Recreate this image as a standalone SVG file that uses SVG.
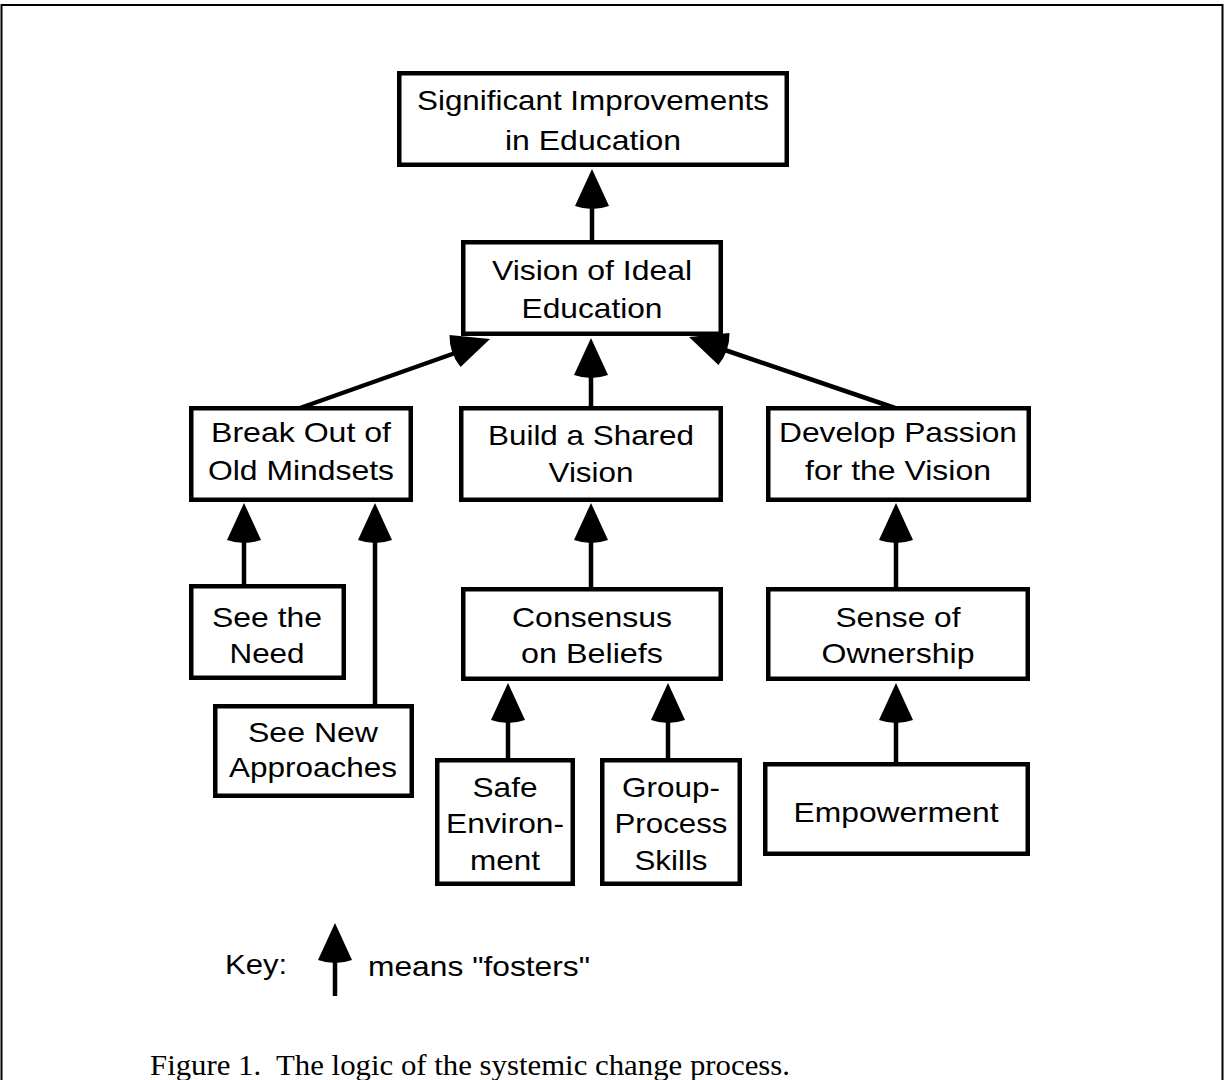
<svg xmlns="http://www.w3.org/2000/svg" xmlns:xlink="http://www.w3.org/1999/xlink" width="1224" height="1080" viewBox="0 0 1224 1080">
<style>
.box{fill:#fff;stroke:#000;stroke-width:4.5}
.lbl{font-family:"Liberation Sans",Arial,Helvetica,sans-serif;font-size:28px;fill:#000;text-anchor:middle}
.key{font-family:"Liberation Sans",Arial,Helvetica,sans-serif;font-size:28px;fill:#000}
.cap{font-family:"Liberation Serif","Times New Roman",serif;font-size:30px;fill:#000}
.cn{stroke:#000;stroke-width:4.5;fill:none}
.ah{fill:#000}
</style>
<defs>
<path id="ah" d="M0,0 L17,37 Q0,43 -17,37 Z"/>
</defs>
<rect x="0" y="0" width="1224" height="1080" fill="#fff"/>
<rect x="1.5" y="5" width="1221" height="1100" fill="none" stroke="#000" stroke-width="2"/>

<g id="connectors">
  <line class="cn" x1="592" y1="242" x2="592" y2="200"/>
  <use xlink:href="#ah" href="#ah" class="ah" x="0" y="0" transform="translate(592,169)"/>
  <line class="cn" x1="591" y1="408" x2="591" y2="370"/>
  <use xlink:href="#ah" href="#ah" class="ah" transform="translate(591,338)"/>
  <line class="cn" x1="300" y1="408" x2="458" y2="352"/>
  <use xlink:href="#ah" href="#ah" class="ah" transform="translate(490,339) rotate(71)"/>
  <line class="cn" x1="895" y1="408" x2="722" y2="349"/>
  <use xlink:href="#ah" href="#ah" class="ah" transform="translate(689,337) rotate(-71)"/>
  <line class="cn" x1="244" y1="586" x2="244" y2="535"/>
  <use xlink:href="#ah" href="#ah" class="ah" transform="translate(244,503)"/>
  <line class="cn" x1="375" y1="706" x2="375" y2="535"/>
  <use xlink:href="#ah" href="#ah" class="ah" transform="translate(375,503)"/>
  <line class="cn" x1="591" y1="589" x2="591" y2="535"/>
  <use xlink:href="#ah" href="#ah" class="ah" transform="translate(591,503)"/>
  <line class="cn" x1="896" y1="589" x2="896" y2="535"/>
  <use xlink:href="#ah" href="#ah" class="ah" transform="translate(896,503)"/>
  <line class="cn" x1="508" y1="760" x2="508" y2="715"/>
  <use xlink:href="#ah" href="#ah" class="ah" transform="translate(508,683)"/>
  <line class="cn" x1="668" y1="760" x2="668" y2="715"/>
  <use xlink:href="#ah" href="#ah" class="ah" transform="translate(668,683)"/>
  <line class="cn" x1="896" y1="764" x2="896" y2="715"/>
  <use xlink:href="#ah" href="#ah" class="ah" transform="translate(896,683)"/>
</g>

<g id="n-significant">
  <rect class="box" x="399.25" y="73.25" width="387.5" height="91.5"/>
  <text class="lbl" x="593" y="110" textLength="352" lengthAdjust="spacingAndGlyphs">Significant Improvements</text>
  <text class="lbl" x="593" y="150" textLength="176" lengthAdjust="spacingAndGlyphs">in Education</text>
</g>
<g id="n-vision">
  <rect class="box" x="463.25" y="242.25" width="257.5" height="91.5"/>
  <text class="lbl" x="592" y="280" textLength="200" lengthAdjust="spacingAndGlyphs">Vision of Ideal</text>
  <text class="lbl" x="592" y="318" textLength="141" lengthAdjust="spacingAndGlyphs">Education</text>
</g>
<g id="n-break">
  <rect class="box" x="191.25" y="408.25" width="219.5" height="91.5"/>
  <text class="lbl" x="301" y="442" textLength="180" lengthAdjust="spacingAndGlyphs">Break Out of</text>
  <text class="lbl" x="301" y="480" textLength="186" lengthAdjust="spacingAndGlyphs">Old Mindsets</text>
</g>
<g id="n-build">
  <rect class="box" x="461.25" y="408.25" width="259.5" height="91.5"/>
  <text class="lbl" x="591" y="445" textLength="206" lengthAdjust="spacingAndGlyphs">Build a Shared</text>
  <text class="lbl" x="591" y="482" textLength="85" lengthAdjust="spacingAndGlyphs">Vision</text>
</g>
<g id="n-develop">
  <rect class="box" x="768.25" y="408.25" width="260.5" height="91.5"/>
  <text class="lbl" x="898" y="442" textLength="238" lengthAdjust="spacingAndGlyphs">Develop Passion</text>
  <text class="lbl" x="898" y="480" textLength="186" lengthAdjust="spacingAndGlyphs">for the Vision</text>
</g>
<g id="n-seeneed">
  <rect class="box" x="191.25" y="586.25" width="152.5" height="91.5"/>
  <text class="lbl" x="267" y="627" textLength="110" lengthAdjust="spacingAndGlyphs">See the</text>
  <text class="lbl" x="267" y="663" textLength="75" lengthAdjust="spacingAndGlyphs">Need</text>
</g>
<g id="n-seenew">
  <rect class="box" x="215.25" y="706.25" width="196.5" height="89.5"/>
  <text class="lbl" x="313" y="742" textLength="130" lengthAdjust="spacingAndGlyphs">See New</text>
  <text class="lbl" x="313" y="777" textLength="168" lengthAdjust="spacingAndGlyphs">Approaches</text>
</g>
<g id="n-consensus">
  <rect class="box" x="463.25" y="589.25" width="257.5" height="89.5"/>
  <text class="lbl" x="592" y="627" textLength="160" lengthAdjust="spacingAndGlyphs">Consensus</text>
  <text class="lbl" x="592" y="663" textLength="142" lengthAdjust="spacingAndGlyphs">on Beliefs</text>
</g>
<g id="n-sense">
  <rect class="box" x="768.25" y="589.25" width="259.5" height="89.5"/>
  <text class="lbl" x="898" y="627" textLength="125" lengthAdjust="spacingAndGlyphs">Sense of</text>
  <text class="lbl" x="898" y="663" textLength="153" lengthAdjust="spacingAndGlyphs">Ownership</text>
</g>
<g id="n-safe">
  <rect class="box" x="437.25" y="760.25" width="135.5" height="123.5"/>
  <text class="lbl" x="505" y="797" textLength="65" lengthAdjust="spacingAndGlyphs">Safe</text>
  <text class="lbl" x="505" y="833" textLength="118" lengthAdjust="spacingAndGlyphs">Environ-</text>
  <text class="lbl" x="505" y="870" textLength="70" lengthAdjust="spacingAndGlyphs">ment</text>
</g>
<g id="n-group">
  <rect class="box" x="602.25" y="760.25" width="137.5" height="123.5"/>
  <text class="lbl" x="671" y="797" textLength="98" lengthAdjust="spacingAndGlyphs">Group-</text>
  <text class="lbl" x="671" y="833" textLength="113" lengthAdjust="spacingAndGlyphs">Process</text>
  <text class="lbl" x="671" y="870" textLength="73" lengthAdjust="spacingAndGlyphs">Skills</text>
</g>
<g id="n-empowerment">
  <rect class="box" x="765.25" y="764.25" width="262.5" height="89.5"/>
  <text class="lbl" x="896" y="822" textLength="205" lengthAdjust="spacingAndGlyphs">Empowerment</text>
</g>

<g id="key">
  <text class="key" x="225" y="974" textLength="62" lengthAdjust="spacingAndGlyphs">Key:</text>
  <line class="cn" x1="335" y1="996" x2="335" y2="955"/>
  <use xlink:href="#ah" href="#ah" class="ah" transform="translate(335,923)"/>
  <text class="key" x="368" y="976" textLength="222" lengthAdjust="spacingAndGlyphs">means "fosters"</text>
</g>
<text class="cap" x="150" y="1075" textLength="640" lengthAdjust="spacingAndGlyphs" xml:space="preserve">Figure 1.  The logic of the systemic change process.</text>
</svg>
